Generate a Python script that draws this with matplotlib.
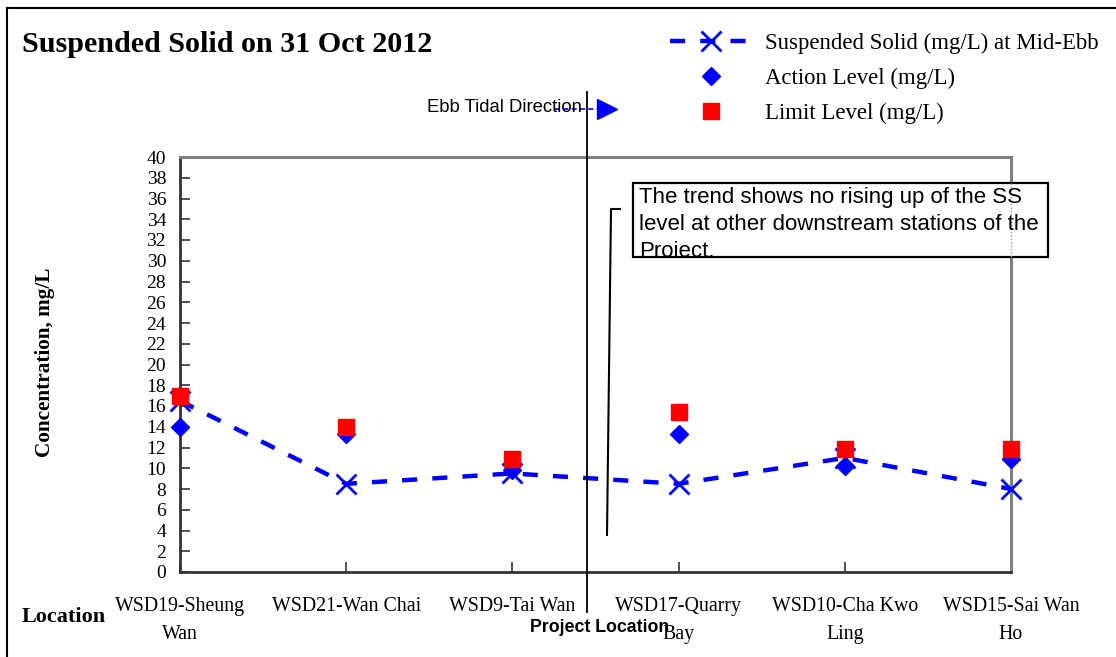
import matplotlib
matplotlib.use("Agg")
import matplotlib.pyplot as plt
from matplotlib.lines import Line2D
from matplotlib.patches import Rectangle
from matplotlib.transforms import Bbox, TransformedBbox

# data
stations = ["WSD19-Sheung\nWan", "WSD21-Wan Chai", "WSD9-Tai Wan",
            "WSD17-Quarry\nBay", "WSD10-Cha Kwo\nLing", "WSD15-Sai Wan\nHo"]
ss_mid_ebb = [16.5, 8.5, 9.5, 8.5, 11.0, 8.0]
action_level = [14.0, 13.3, 9.8, 13.3, 10.2, 10.9]
limit_level = [17.0, 14.0, 10.9, 15.4, 11.9, 11.9]
y_ticks = list(range(0, 41, 2))

W, H = 1116, 657
serif = "Liberation Serif"
sans = "Liberation Sans"


def px(x, y):
    # pixel position (from top-left) -> figure fraction
    return x / W, 1 - y / H


fig = plt.figure(figsize=(W / 100, H / 100), dpi=100)
ax = fig.add_axes([180 / W, (H - 572) / H, (1011 - 180) / W, (572 - 157) / H])

xs = list(range(len(stations)))
ln_ss, = ax.plot(xs, ss_mid_ebb, color="#0000ff", lw=3.2, dashes=(3.4, 3.4),
                 marker="x", ms=14, mew=2, clip_on=False, zorder=3,
                 label="Suspended Solid (mg/L) at Mid-Ebb")
ln_al, = ax.plot(xs, action_level, ls="none", marker="D", ms=9.5, color="#0000ff",
                 clip_on=False, zorder=4, label="Action Level (mg/L)")
ln_ll, = ax.plot(xs, limit_level, ls="none", marker="s", ms=11, color="#ff0000",
                 clip_on=False, zorder=5, label="Limit Level (mg/L)")

ax.set_xlim(0, len(stations) - 1)
ax.set_ylim(0, 40)
ax.set_yticks(y_ticks)
ax.set_yticklabels([str(v) for v in y_ticks], fontfamily=serif, fontsize=14)
ax.set_xticks(xs)
ax.set_xticklabels(stations, fontfamily=serif, fontsize=14.3, linespacing=1.65,
                   va="top")
ax.tick_params(axis="y", direction="in", length=7, width=1.2, color="#333333",
               pad=10)
ax.tick_params(axis="x", direction="in", length=7, width=1.2, color="#333333",
               pad=18)
for s in ["left", "bottom"]:
    ax.spines[s].set_color("#333333")
    ax.spines[s].set_linewidth(2)
for s in ["top", "right"]:
    ax.spines[s].set_color("#808080")
    ax.spines[s].set_linewidth(2.2)

# titles / axis names
fig.text(*px(22, 45), "Suspended Solid on 31 Oct 2012", fontfamily=serif,
         fontsize=21.7, fontweight="bold", va="center", ha="left")
fig.text(*px(45, 362), "Concentration, mg/L", fontfamily=serif, fontsize=15.3,
         fontweight="bold", rotation=90, va="center", ha="center")
fig.text(*px(22, 617), "Location", fontfamily=serif, fontsize=16,
         fontweight="bold", va="center", ha="left")

# legend
fig.legend(handles=[ln_ss, ln_al, ln_ll], loc="upper left",
           bbox_to_anchor=px(661, 24), frameon=False,
           prop={"family": serif, "size": 16.4}, handlelength=3.6,
           handletextpad=0.55, labelspacing=0.6, borderaxespad=0)

# outer chart border (top + left)
fig.add_artist(Line2D([7 / W, 1], [1 - 8 / H, 1 - 8 / H], color="black", lw=1.5))
fig.add_artist(Line2D([7 / W, 7 / W], [0, 1 - 8 / H], color="black", lw=1.5))

# project location line
x0, y0 = px(587, 92)
x1, y1 = px(587, 612)
fig.add_artist(Line2D([x0, x1], [y0, y1], color="black", lw=1.3, zorder=6))
fig.text(*px(600, 627), "Project Location", fontfamily=sans, fontsize=12.8,
         fontweight="bold", ha="center", va="center", zorder=7)

# ebb tidal direction arrow
fig.text(*px(582, 107), "Ebb Tidal Direction", fontfamily=sans, fontsize=13.3,
         ha="right", va="center")
ax1, ay1 = px(555, 109)
ax2, ay2 = px(598, 109)
fig.add_artist(Line2D([ax1, ax2], [ay1, ay2], color="#0000ff", lw=1.2,
                      dashes=(3, 2)))
fig.add_artist(Line2D([px(607, 109)[0]], [px(607, 109)[1]], ls="none",
                      marker=">", ms=14, color="#0000ff"))

# callout bracket + text box
cx = [px(620, 209)[0], px(611, 209)[0], px(607, 535)[0]]
cy = [px(620, 209)[1], px(611, 209)[1], px(607, 535)[1]]
fig.add_artist(Line2D(cx, cy, color="black", lw=1.5, zorder=6))

bx0, by0 = px(633, 257)
bx1, by1 = px(1048, 183)
box = Rectangle((bx0, by0), bx1 - bx0, by1 - by0, transform=fig.transFigure,
                facecolor="white", edgecolor="black", lw=1.6, zorder=8)
fig.add_artist(box)
fig.add_artist(Line2D([1011 / W, 1011 / W], [by0, by1], color="#999999", lw=1,
                      ls=(0, (1, 1.5)), zorder=9))
note = fig.text(*px(639, 187), "The trend shows no rising up of the SS\n"
                "level at other downstream stations of the\nProject.",
                fontfamily=sans, fontsize=16, ha="left", va="top",
                linespacing=1.36, zorder=10)
note.set_clip_box(TransformedBbox(Bbox([[bx0, by0], [bx1, by1]]), fig.transFigure))
note.set_clip_on(True)

fig.savefig("out.png", dpi=100)
